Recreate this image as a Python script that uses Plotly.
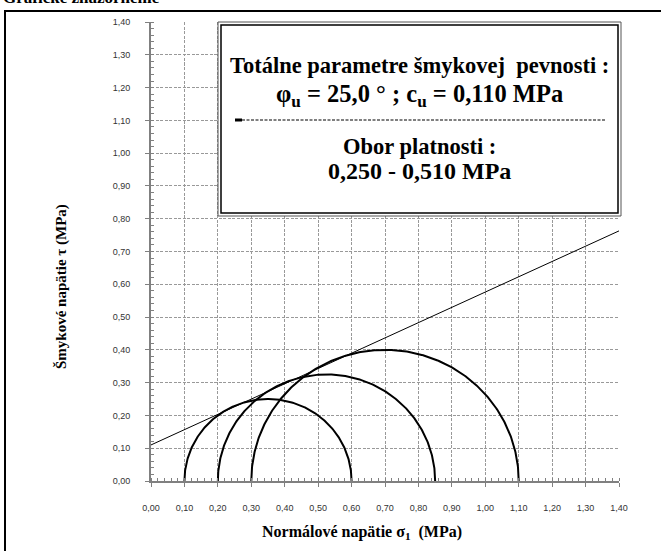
import numpy as np
import plotly.graph_objects as go

# ---- data ----
sigma3 = [0.10, 0.20, 0.30]          # MPa
sigma1 = [0.60, 0.85, 1.10]          # MPa
phi_deg = 25.0
c_u = 0.110
x_ticks = [round(0.1 * i, 2) for i in range(15)]
y_ticks = [round(0.1 * i, 2) for i in range(15)]
x_ticklabels = [f"{v:.2f}".replace(".", ",") for v in x_ticks]
y_ticklabels = [f"{v:.2f}".replace(".", ",") for v in y_ticks]
env_x = [0.0, 1.4]

W, H = 661, 551
L, R, T, B = 151, 42, 22, 70
pw, ph = W - L - R, H - T - B


def px(x):
    return (x - L) / pw


def py(y):
    return (H - B - y) / ph


fig = go.Figure()

t = np.linspace(0, np.pi, 300)
for s3, s1 in zip(sigma3, sigma1):
    c = (s1 + s3) / 2
    r = (s1 - s3) / 2
    fig.add_trace(go.Scatter(x=c + r * np.cos(t), y=r * np.sin(t), mode="lines",
                             line=dict(color="black", width=2), hoverinfo="skip",
                             showlegend=False))

tanphi = np.tan(np.radians(phi_deg))
fig.add_trace(go.Scatter(x=env_x, y=[c_u + tanphi * v for v in env_x], mode="lines",
                         line=dict(color="black", width=1), showlegend=False,
                         hoverinfo="skip"))

axis_common = dict(
    range=[0, 1.4], showline=True, linecolor="#808080", linewidth=2,
    showgrid=True, gridcolor="#999999", gridwidth=1, griddash="3px,1.5px",
    zeroline=False, ticks="outside", ticklen=4, tickcolor="#808080", tickwidth=1,
    tickfont=dict(family="Liberation Sans, Arial", size=9, color="#333333"),
    minor=dict(dtick=0.02, ticks="inside", ticklen=3, tickcolor="#808080",
               tickwidth=1, showgrid=False),
)

fig.update_xaxes(**axis_common, tickvals=x_ticks, ticktext=x_ticklabels,
                 mirror=False, ticklabelstandoff=13)
fig.update_yaxes(**axis_common, tickvals=y_ticks, ticktext=y_ticklabels,
                 ticklabelstandoff=13)

serif = "Liberation Serif, Times New Roman, serif"

shapes = [
    # outer frame
    dict(type="rect", xref="paper", yref="paper", x0=px(5), x1=px(700),
         y0=py(600), y1=py(11), line=dict(color="black", width=2),
         fillcolor="rgba(0,0,0,0)", layer="above"),
    # text box (double border)
    dict(type="rect", xref="paper", yref="paper", x0=px(218), x1=px(621),
         y0=py(216), y1=py(22), line=dict(color="#555", width=1),
         fillcolor="white", layer="above"),
    dict(type="rect", xref="paper", yref="paper", x0=px(221), x1=px(618),
         y0=py(213), y1=py(25), line=dict(color="black", width=1.5),
         fillcolor="white", layer="above"),
    # dashed separator
    dict(type="line", xref="paper", yref="paper", x0=px(242), x1=px(605),
         y0=py(120), y1=py(120), line=dict(color="black", width=1.2, dash="3px,1.5px"),
         layer="above"),
    dict(type="line", xref="paper", yref="paper", x0=px(235), x1=px(242),
         y0=py(120), y1=py(120), line=dict(color="black", width=3),
         layer="above"),
]

cx = px(419)
ann = [
    dict(text="Totálne parametre šmykovej  pevnosti :", x=cx, y=py(66), size=22.5),
    dict(text="φ<sub>u</sub> = 25,0 ° ; c<sub>u</sub> = 0,110 MPa", x=cx, y=py(95), size=24.5),
    dict(text="Obor platnosti :", x=cx, y=py(146), size=22.5),
    dict(text="0,250 - 0,510 MPa", x=cx, y=py(171), size=24),
]
annotations = []
for a in ann:
    annotations.append(dict(text=f"<b>{a['text']}</b>", x=a["x"], y=a["y"], xref="paper",
                            yref="paper", xanchor="center", yanchor="middle",
                            showarrow=False, font=dict(family=serif, size=a["size"],
                                                       color="black")))

annotations += [
    dict(text="<b>Grafické znázornenie</b>", x=px(1), y=py(9), xref="paper", yref="paper",
         xanchor="left", yanchor="bottom", showarrow=False,
         font=dict(family=serif, size=17, color="black")),
    dict(text="<b>Normálové napätie σ<sub>1</sub>  (MPa)</b>", x=px(362), y=py(532),
         xref="paper", yref="paper", xanchor="center", yanchor="middle",
         showarrow=False, font=dict(family=serif, size=16, color="black")),
    dict(text="<b>Šmykové napätie τ (MPa)</b>", x=px(61), y=py(287), textangle=-90,
         xref="paper", yref="paper", xanchor="center", yanchor="middle",
         showarrow=False, font=dict(family=serif, size=15, color="black")),
]

fig.update_layout(
    width=W, height=H, margin=dict(l=L, r=R, t=T, b=B),
    plot_bgcolor="white", paper_bgcolor="white",
    shapes=shapes, annotations=annotations, showlegend=False,
)

fig.write_html("out.html")
